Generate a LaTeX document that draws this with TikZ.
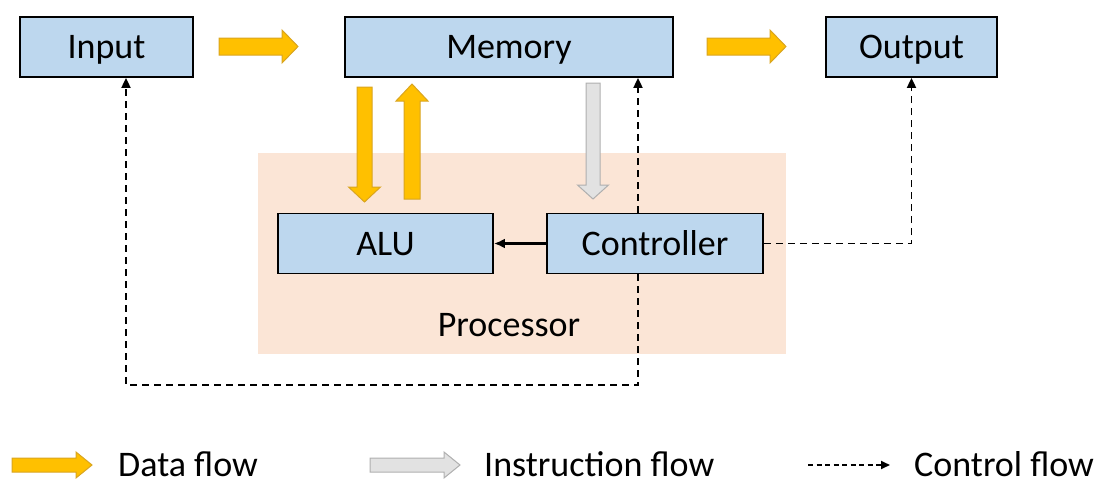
\documentclass[tikz,border=0pt]{standalone}
\usepackage{fontspec}
\setmainfont{Carlito}
\usetikzlibrary{arrows.meta}
\definecolor{boxblue}{HTML}{BDD7EE}
\definecolor{procbg}{HTML}{FBE5D6}
\definecolor{datay}{HTML}{FFC000}
\definecolor{dataybd}{HTML}{D9A520}
\definecolor{instg}{HTML}{E2E2E2}
\definecolor{instgbd}{HTML}{AFAFAF}
\newcommand\harrow[6]{%
  \draw[#1] (#2,#4-#5) -- (#3-16,#4-#5) -- (#3-16,#4-#6) -- (#3,#4) -- (#3-16,#4+#6) -- (#3-16,#4+#5) -- (#2,#4+#5) -- cycle;}
\newcommand\varrow[7]{%
  \draw[#1] (#2-#5,#3) -- (#2-#5,#4-#7) -- (#2-#6,#4-#7) -- (#2,#4) -- (#2+#6,#4-#7) -- (#2+#5,#4-#7) -- (#2+#5,#3) -- cycle;}
\begin{document}
\begin{tikzpicture}[x=1pt,y=-1pt,
  box/.style={draw=black,line width=1.8pt,fill=boxblue,minimum height=60pt,inner sep=0pt,
    text height=23.5pt,text depth=0pt,font=\fontsize{36}{40}\selectfont},
  lbl/.style={inner sep=0pt,font=\fontsize{36}{40}\selectfont},
  ctrl/.style={line width=1.9pt,dash pattern=on 7pt off 5pt,-{Triangle[length=10pt,width=9pt]}},
  dataarrow/.style={fill=datay,draw=dataybd,line width=1pt},
  instarrow/.style={fill=instg,draw=instgbd,line width=1pt}]
\useasboundingbox (0,0) rectangle (1104,479);

% processor background
\node[fill=procbg,inner sep=0pt,minimum width=528pt,minimum height=201pt] (proc) at (522,253.5) {};
\node[lbl,text height=23pt,text depth=0pt] (proclbl) at (509,324.5) {Processor};

% boxes
\node[box,minimum width=173pt] (in) at (106.5,47) {Input};
\node[box,minimum width=328pt] (mem) at (509,47) {Memory};
\node[box,minimum width=171pt] (out) at (911.5,47) {Output};
\node[box,minimum width=215pt] (alu) at (385.5,243.5) {ALU};
\node[box,minimum width=216pt] (ctl) at (655,243.5) {Controller};

% fat arrows
\harrow{dataarrow}{219}{298}{46.5}{8.5}{16.5}
\harrow{dataarrow}{707}{786}{46.5}{8.5}{16.5}
\varrow{dataarrow}{364.5}{87}{202}{7.5}{16}{15}
\varrow{dataarrow}{412}{199}{84}{8}{16}{-17}
\varrow{instarrow}{593}{83}{199}{7}{15.5}{14}

% controller to ALU
\draw[line width=2.4pt,-{Latex[length=11pt,width=10pt]}] (ctl.west) -- (alu.east);

% control flow
\coordinate (br) at (638,385);
\coordinate (bl) at (126,385);
\draw[ctrl] (ctl.north -| br) -- (mem.south -| br);
\draw[ctrl] (ctl.south -| br) -- (br) -- (bl) -- (in.south -| bl);
\draw[ctrl] (ctl.east) -| (out.south);

% legend
\harrow{dataarrow}{12}{92}{465}{7}{13}
\node[lbl,anchor=base west] (l1) at (118,476.5) {Data flow};
\harrow{instarrow}{370}{460}{465}{7}{13}
\node[lbl,anchor=base west] (l2) at (484,476.5) {Instruction flow};
\coordinate (ls) at (808,465);
\coordinate (le) at (890,465);
\draw[line width=1.9pt,dash pattern=on 5pt off 3.5pt,-{Triangle[length=9pt,width=8pt]}] (ls) -- (le);
\node[lbl,anchor=base west] (l3) at (914,476.5) {Control flow};
\end{tikzpicture}
\end{document}
